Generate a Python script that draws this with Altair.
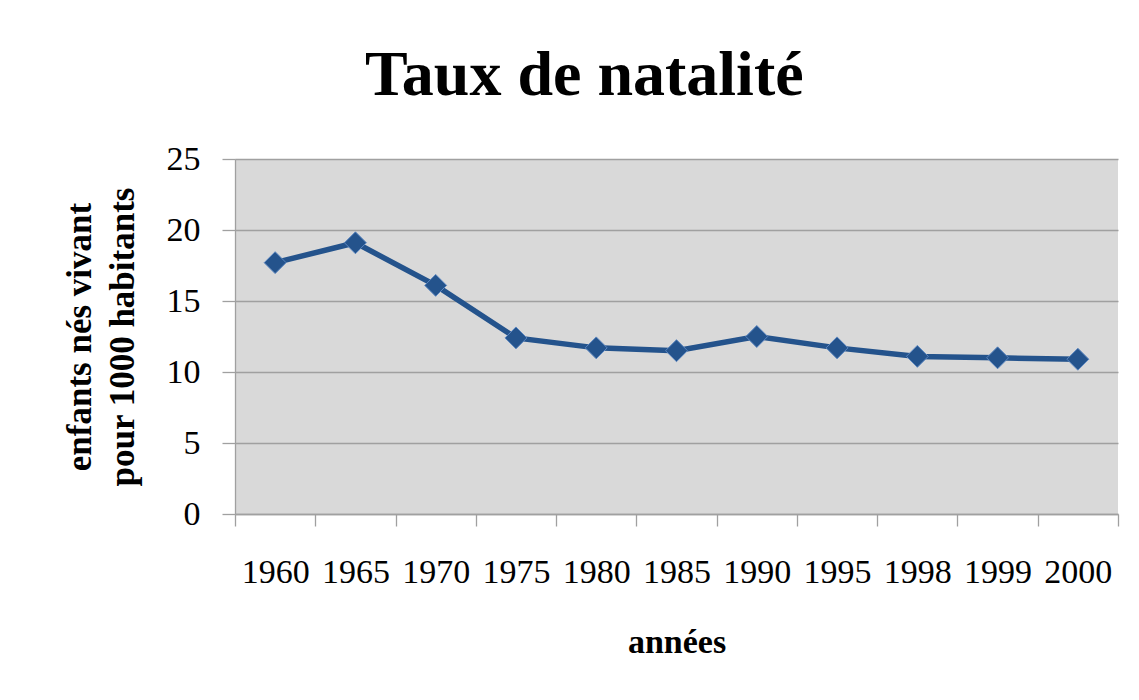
import altair as alt
import pandas as pd

years = ["1960", "1965", "1970", "1975", "1980", "1985", "1990", "1995", "1998", "1999", "2000"]
taux = [17.7, 19.1, 16.1, 12.4, 11.7, 11.5, 12.5, 11.7, 11.1, 11.0, 10.9]
y_ticks = [0, 5, 10, 15, 20, 25]

df = pd.DataFrame({"annee": years, "taux": taux})

FONT = "Liberation Serif"
BLUE = "#24538c"

x = alt.X(
    "annee:N",
    sort=years,
    scale=alt.Scale(type="band", paddingInner=0, paddingOuter=0),
    axis=alt.Axis(
        title="années",
        titleFont=FONT, titleFontSize=34, titleFontWeight="bold", titleColor="black",
        titleBaseline="alphabetic", titleY=138,
        labelFont=FONT, labelFontSize=34, labelColor="black", labelAngle=0,
        labelBaseline="alphabetic", labelPadding=56,
        tickBand="extent", tickSize=12, tickColor="#a0a0a0", tickWidth=1.3,
        domainColor="#a0a0a0", domainWidth=1.3, grid=False,
    ),
)
y = alt.Y(
    "taux:Q",
    scale=alt.Scale(domain=[0, 25], nice=False),
    axis=alt.Axis(
        values=y_ticks,
        title=["enfants nés vivant", "pour 1000 habitants"],
        titleFont=FONT, titleFontSize=35, titleFontWeight="bold", titleColor="black",
        titleBaseline="alphabetic", titleAngle=270, titleAlign="center",
        titleX=-145, titleY=177.5, titleLineHeight=43,
        labelFont=FONT, labelFontSize=34, labelColor="black", labelPadding=22,
        tickSize=13, tickColor="#a0a0a0", tickWidth=1.3,
        domainColor="#a0a0a0", domainWidth=1.3,
        grid=True, gridColor="#a0a0a0", gridWidth=1.3,
    ),
)

line = alt.Chart(df).mark_line(color=BLUE, strokeWidth=5.5).encode(x=x, y=y)
pts = alt.Chart(df).mark_point(
    shape="diamond", size=480, filled=True, fill=BLUE, stroke="#5b86c0", strokeWidth=1, opacity=1
).encode(x=x, y=y)

chart = (
    alt.layer(line, pts)
    .properties(
        width=883,
        height=355,
        autosize=alt.AutoSizeParams(type="none"),
        padding={"left": 227, "top": 151, "right": 13, "bottom": 170},
        background="white",
        title=alt.TitleParams(
            "Taux de natalité",
            font=FONT, fontSize=64, fontWeight="bold", color="black",
            anchor="start", frame="group", dx=130, dy=62, offset=45, baseline="alphabetic",
        ),
    )
    .configure_view(fill="#d9d9d9", stroke=None)
)

chart.save("out.html", embed_options={"renderer": "svg", "actions": False})
